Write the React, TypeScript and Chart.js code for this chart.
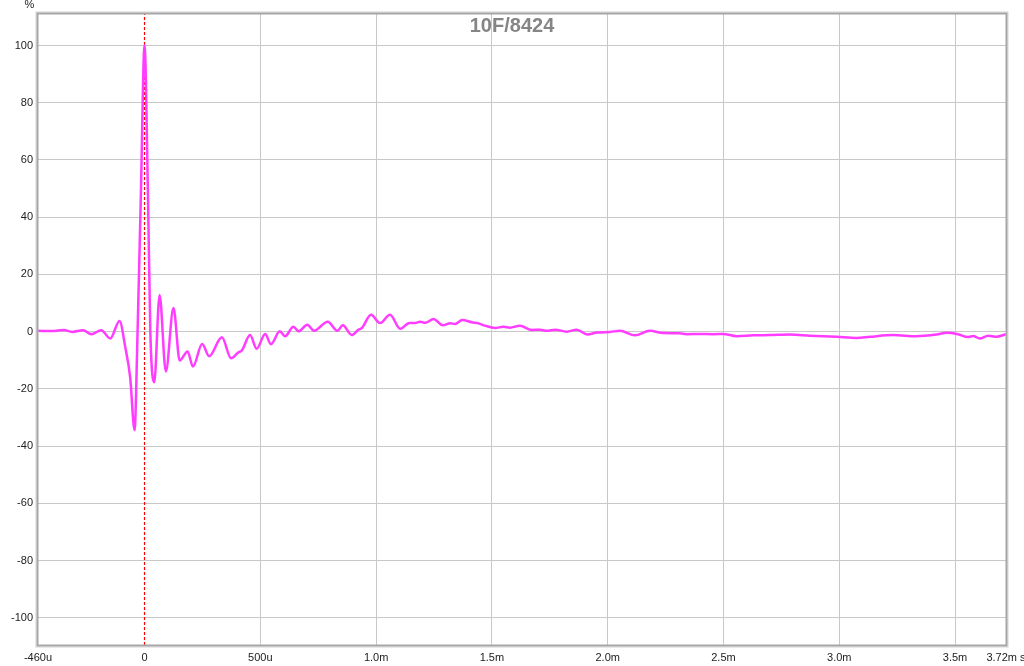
import React, { useEffect, useRef } from "react";
import { Chart, registerables } from "chart.js";

Chart.register(...registerables);

// Time in milliseconds
const timeMs = [
  -0.459, -0.398, -0.35, -0.312, -0.265, -0.23, -0.187, -0.148, -0.108, -0.083,
  -0.062, -0.043, -0.03, -0.016, 0.0, 0.015, 0.025, 0.042, 0.065, 0.092,
  0.125, 0.152, 0.186, 0.209, 0.249, 0.279, 0.334, 0.374, 0.406, 0.42,
  0.456, 0.484, 0.521, 0.546, 0.584, 0.607, 0.643, 0.665, 0.703, 0.732,
  0.791, 0.833, 0.856, 0.895, 0.924, 0.938, 0.978, 1.017, 1.06, 1.104,
  1.144, 1.168, 1.19, 1.212, 1.248, 1.288, 1.319, 1.341, 1.372, 1.413,
  1.442, 1.47, 1.514, 1.549, 1.578, 1.621, 1.672, 1.708, 1.737, 1.773,
  1.823, 1.866, 1.912, 1.953, 2.01, 2.053, 2.118, 2.182, 2.24, 2.312,
  2.341, 2.398, 2.456, 2.499, 2.557, 2.628, 2.7, 2.787, 2.873, 2.989,
  3.075, 3.132, 3.233, 3.334, 3.42, 3.463, 3.513, 3.556, 3.578, 3.607,
  3.643, 3.679, 3.719,
];

// Impulse response, percent
const percent = [
  0.3, 0.2, 0.6, -0.1, 0.5, -0.9, 0.5, -2.4, 3.7, -5.5,
  -16, -34.4, 0, 47, 100, 47, 0, -17.7, 12.8, -13.9,
  8.3, -10.1, -6.9, -12.2, -4.3, -8.6, -2.0, -9.3, -7.2, -6.6,
  -1.2, -6.0, -0.8, -4.4, 0.1, -1.6, 1.7, 0.1, 2.4, 0.3,
  3.5, 0.3, 2.2, -1.2, 0.7, 1.2, 5.9, 3.0, 5.9, 1.0,
  3.0, 3.0, 3.5, 3.1, 4.4, 2.2, 2.9, 2.7, 4.1, 3.3,
  2.9, 2.1, 1.3, 1.7, 1.4, 2.1, 0.6, 0.7, 0.3, 0.7,
  0.0, 0.7, -1.0, -0.3, -0.1, 0.3, -1.3, 0.3, -0.5, -0.6,
  -0.9, -0.8, -0.9, -0.8, -1.6, -1.3, -1.2, -1.0, -1.4, -1.8,
  -2.2, -1.8, -1.2, -1.6, -1.0, -0.4, -0.9, -1.9, -1.5, -2.4,
  -1.4, -1.8, -0.9,
];

const xTickValues = [-0.46, 0, 0.5, 1.0, 1.5, 2.0, 2.5, 3.0, 3.5, 3.72];
const xTickLabels = ["-460u", "0", "500u", "1.0m", "1.5m", "2.0m", "2.5m", "3.0m", "3.5m", "3.72m s"];
const yTickValues = [-100, -80, -60, -40, -20, 0, 20, 40, 60, 80, 100];
const yTickLabels = ["-100", "-80", "-60", "-40", "-20", "0", "20", "40", "60", "80", "100"];

const xMin = -0.46;
const xMax = 3.72;
const yMin = -109.5;
const yMax = 111;
const markerTime = [0, 0];
const markerLevel = [yMin, yMax];

const titleText = "10F/8424";
const unitText = "%";

const framePlugin = {
  id: "framePlugin",
  afterDraw(chart: any) {
    const { ctx, chartArea } = chart;
    const { left, top, right, bottom } = chartArea;
    ctx.save();
    // frame
    ctx.strokeStyle = "#d4d4d4";
    ctx.lineWidth = 1;
    ctx.strokeRect(left - 2, top - 2, right - left + 4, bottom - top + 4);
    ctx.strokeStyle = "#a6a6a6";
    ctx.lineWidth = 2;
    ctx.strokeRect(left - 0.5, top - 0.5, right - left + 1, bottom - top + 1);
    // title
    ctx.fillStyle = "#858585";
    ctx.font = "bold 20px 'Liberation Sans', Arial, sans-serif";
    ctx.textAlign = "center";
    ctx.textBaseline = "middle";
    ctx.fillText(titleText, 512, 26);
    // unit
    ctx.fillStyle = "#222";
    ctx.font = "11px 'Liberation Sans', Arial, sans-serif";
    ctx.fillText(unitText, 29.5, 5);
    ctx.restore();
  },
};

export default function App() {
  const canvasRef = useRef<HTMLCanvasElement | null>(null);

  useEffect(() => {
    const canvas = canvasRef.current;
    if (!canvas) return;
    const points = timeMs.map((t, i) => ({ x: t, y: percent[i] }));
    const marker = markerTime.map((t, i) => ({ x: t, y: markerLevel[i] }));
    const tickFont = { family: "'Liberation Sans', Arial, sans-serif", size: 11 };

    const chart = new Chart(canvas, {
      type: "line",
      data: {
        datasets: [
          {
            data: marker,
            borderColor: "#ff0000",
            borderWidth: 1.2,
            borderDash: [3, 2],
            pointRadius: 0,
            tension: 0,
            order: 2,
          },
          {
            data: points,
            borderColor: "rgb(255,60,255)",
            borderWidth: 2.5,
            pointRadius: 0,
            cubicInterpolationMode: "monotone",
            order: 1,
          },
        ],
      },
      options: {
        animation: false,
        responsive: false,
        devicePixelRatio: 1,
        parsing: false,
        normalized: true,
        layout: { padding: { top: 14, right: 18, left: 0, bottom: 0 } },
        plugins: {
          legend: { display: false },
          tooltip: { enabled: false },
          title: { display: false },
        },
        scales: {
          x: {
            type: "linear",
            min: xMin,
            max: xMax,
            border: { display: false },
            afterBuildTicks(scale: any) {
              scale.ticks = xTickValues.map((v) => ({ value: v }));
            },
            afterFit(scale: any) {
              scale.height = 21;
              scale.paddingLeft = 0;
              scale.paddingRight = 0;
            },
            grid: {
              drawTicks: false,
              color: (c: any) => {
                const v = c.tick ? c.tick.value : null;
                if (v === 0 || v === xMin || v === xMax) return "rgba(0,0,0,0)";
                return "#c8c8c8";
              },
              lineWidth: 1,
            },
            ticks: {
              autoSkip: false,
              maxRotation: 0,
              padding: 6,
              color: "#222",
              font: tickFont,
              callback: (value: any) => {
                const idx = xTickValues.findIndex((v) => Math.abs(v - Number(value)) < 1e-9);
                return idx >= 0 ? xTickLabels[idx] : "";
              },
            },
          },
          y: {
            type: "linear",
            min: yMin,
            max: yMax,
            border: { display: false },
            afterBuildTicks(scale: any) {
              scale.ticks = yTickValues.map((v) => ({ value: v }));
            },
            afterFit(scale: any) {
              scale.width = 38;
              scale.paddingTop = 0;
              scale.paddingBottom = 0;
            },
            grid: {
              drawTicks: false,
              color: "#c8c8c8",
              lineWidth: 1,
            },
            ticks: {
              padding: 5,
              color: "#222",
              font: tickFont,
              callback: (value: any) => {
                const idx = yTickValues.findIndex((v) => Math.abs(v - Number(value)) < 1e-9);
                return idx >= 0 ? yTickLabels[idx] : "";
              },
            },
          },
        },
      },
      plugins: [framePlugin],
    } as any);

    return () => {
      chart.destroy();
    };
  }, []);

  return (
    <div style={{ position: "absolute", left: 0, top: 0, width: 1024, height: 666, background: "#fff" }}>
      <canvas ref={canvasRef} width={1024} height={666} style={{ display: "block", width: 1024, height: 666 }} />
    </div>
  );
}
